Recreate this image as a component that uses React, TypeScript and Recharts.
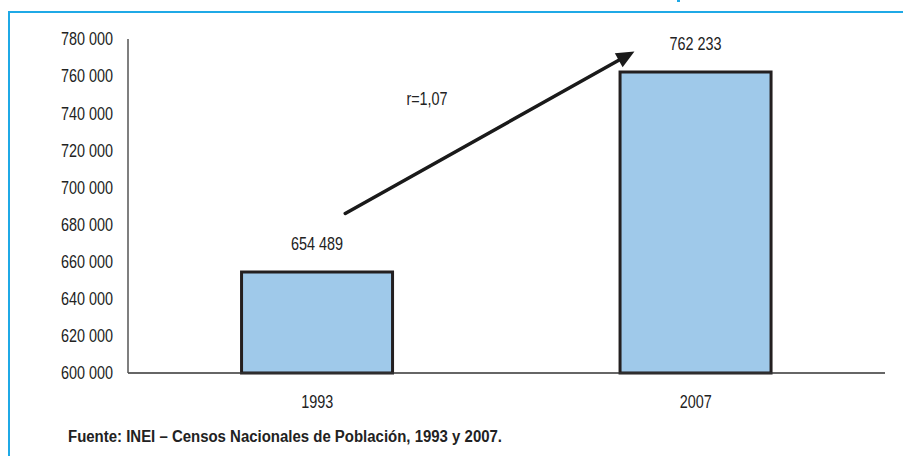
import { BarChart, Bar, XAxis, YAxis, LabelList, ReferenceLine, ReferenceDot } from 'recharts';

// datos del gráfico
const years = ['1993', '2007'];
const population = [654489, 762233];
const yTicks = [600000, 620000, 640000, 660000, 680000, 700000, 720000, 740000, 760000, 780000];
const growthLabel = 'r=1,07';
// flecha de crecimiento (x en fracción del área, y en valor)
const arrowFrom = { x: 0.287, y: 686000 };
const arrowTo = { x: 0.669, y: 773300 };
const growthLabelPos = { x: 0.395, y: 748000 };
const source = 'Fuente: INEI – Censos Nacionales de Población, 1993 y 2007.';

const chartData = years.map((year, i) => ({ year, value: population[i] }));

const FONT = '"Liberation Sans", Arial, sans-serif';
const FRAME_BLUE = '#1FA9E6';
const SQUEEZE = 0.8; // imita la Arial Narrow del original

const fmt = (v: number) => String(v).replace(/\B(?=(\d{3})+(?!\d))/g, ' ');

// texto estrecho
const NarrowText = ({ x, y, anchor, children }: any) => (
    <g transform={`translate(${x},${y})`}>
        <text
            transform={`scale(${SQUEEZE},1)`}
            textAnchor={anchor}
            dy="0.35em"
            fontSize={18}
            fill="#222"
            fontFamily={FONT}
        >
            {children}
        </text>
    </g>
);

const YTick = (props: any) => {
    const { x, y, payload } = props;
    return <NarrowText x={x} y={y} anchor="end">{fmt(payload.value)}</NarrowText>;
};

const XTick = (props: any) => {
    const { x, y, payload } = props;
    return <NarrowText x={x} y={y + 6} anchor="middle">{payload.value}</NarrowText>;
};

const ValueLabel = (props: any) => {
    const { x, y, width, value } = props;
    return <NarrowText x={x + width / 2} y={y - 28} anchor="middle">{fmt(value)}</NarrowText>;
};

// línea con punta de flecha
const ArrowShape = (props: any) => {
    const { x1, y1, x2, y2 } = props;
    if (x1 == null) return null;
    const ang = Math.atan2(y2 - y1, x2 - x1);
    const len = 18;
    const half = 8;
    const bx = x2 - len * Math.cos(ang);
    const by = y2 - len * Math.sin(ang);
    const px = -Math.sin(ang) * half;
    const py = Math.cos(ang) * half;
    return (
        <g>
            <line x1={x1} y1={y1} x2={bx} y2={by} stroke="#1a1a1a" strokeWidth={3.5} strokeLinecap="round" />
            <polygon points={`${x2},${y2} ${bx + px},${by + py} ${bx - px},${by - py}`} fill="#1a1a1a" />
        </g>
    );
};

const GrowthLabel = (props: any) => {
    const { cx, cy } = props;
    if (cx == null) return null;
    return <NarrowText x={cx} y={cy} anchor="middle">{growthLabel}</NarrowText>;
};

export default function App() {
    return (
        <div style={{ position: 'relative', width: 903, height: 456, background: '#fff', overflow: 'hidden' }}>
            <style>{'body{margin:0}'}</style>
            {/* marco azul */}
            <div style={{ position: 'absolute', left: 8, top: 11, width: 895, height: 2, background: FRAME_BLUE }} />
            <div style={{ position: 'absolute', left: 8, top: 11, width: 2, height: 445, background: FRAME_BLUE }} />
            <div style={{ position: 'absolute', left: 677, top: 0, width: 3, height: 2, background: FRAME_BLUE }} />

            <div style={{ position: 'absolute', left: 0, top: 0 }}>
                <BarChart
                    width={903}
                    height={420}
                    data={chartData}
                    margin={{ top: 39, right: 18, left: 68, bottom: 17 }}
                    barCategoryGap="30%"
                >
                    <XAxis
                        dataKey="year"
                        tickLine={false}
                        tickSize={6}
                        tickMargin={17}
                        height={30}
                        axisLine={{ stroke: '#333', strokeWidth: 1.5 }}
                        tick={<XTick />}
                    />
                    <XAxis xAxisId="pos" type="number" domain={[0, 1]} hide />
                    <YAxis
                        width={60}
                        domain={[600000, 780000]}
                        ticks={yTicks}
                        tickLine={false}
                        tickMargin={9}
                        axisLine={{ stroke: '#555', strokeWidth: 1.5 }}
                        tick={<YTick />}
                        interval={0}
                    />
                    <Bar
                        dataKey="value"
                        fill="#9FC9EA"
                        stroke="#231F20"
                        strokeWidth={3}
                        isAnimationActive={false}
                    >
                        <LabelList dataKey="value" content={<ValueLabel />} />
                    </Bar>
                    <ReferenceLine
                        xAxisId="pos"
                        segment={[arrowFrom, arrowTo]}
                        ifOverflow="visible"
                        shape={ArrowShape}
                    />
                    <ReferenceDot
                        xAxisId="pos"
                        x={growthLabelPos.x}
                        y={growthLabelPos.y}
                        ifOverflow="visible"
                        shape={GrowthLabel}
                    />
                </BarChart>
            </div>

            <div
                style={{
                    position: 'absolute',
                    left: 68,
                    top: 428,
                    fontFamily: FONT,
                    fontWeight: 'bold',
                    fontSize: 16,
                    color: '#222',
                    whiteSpace: 'nowrap',
                    transform: 'scaleX(0.935)',
                    transformOrigin: '0 0',
                }}
            >
                {source}
            </div>
        </div>
    );
}
